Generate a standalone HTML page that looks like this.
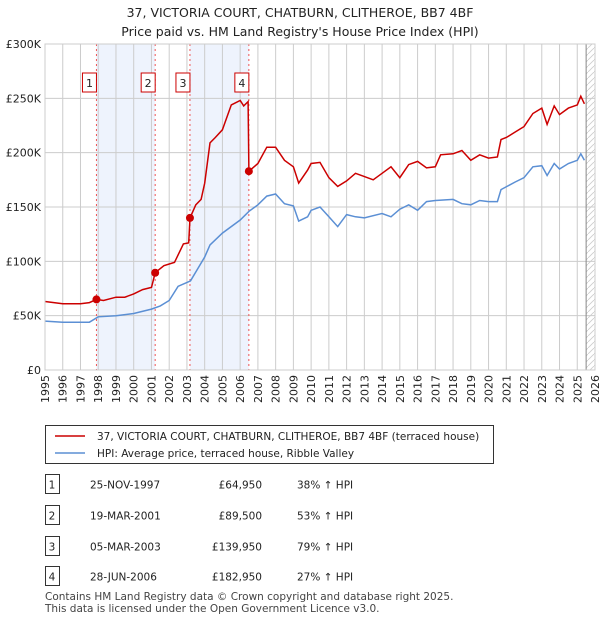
<!DOCTYPE html>
<html><head><meta charset="utf-8"><style>
body{margin:0;width:600px;height:620px;background:#fff;font-family:"Liberation Sans","DejaVu Sans",sans-serif;overflow:hidden}
svg text{font-family:"DejaVu Sans","Liberation Sans",sans-serif}
</style></head><body>
<svg id="c" width="600" height="620">
<text x="300" y="17" text-anchor="middle" font-size="12.5" fill="#222">37, VICTORIA COURT, CHATBURN, CLITHEROE, BB7 4BF</text>
<text x="300" y="36" text-anchor="middle" font-size="12.5" fill="#222">Price paid vs. HM Land Registry's House Price Index (HPI)</text>
<g id="plot"></g>
<g>
<rect x="45.5" y="425.5" width="448" height="38" fill="#fff" stroke="#333"/>
<line x1="55" y1="436" x2="85" y2="436" stroke="#cc0000" stroke-width="1.6"/>
<text x="97" y="440" font-size="10.5" fill="#222">37, VICTORIA COURT, CHATBURN, CLITHEROE, BB7 4BF (terraced house)</text>
<line x1="55" y1="453" x2="85" y2="453" stroke="#5b8fd4" stroke-width="1.6"/>
<text x="97" y="457" font-size="10.5" fill="#222">HPI: Average price, terraced house, Ribble Valley</text>
</g>
<g id="table" font-size="10.5" fill="#222"></g>
<text x="45" y="600" font-size="10.5" fill="#444">Contains HM Land Registry data © Crown copyright and database right 2025.</text>
<text x="45" y="612" font-size="10.5" fill="#444">This data is licensed under the Open Government Licence v3.0.</text>
</svg>
<script>
const saleYears=[1997.9,2001.21,2003.17,2006.49];
const saleLabels=["1","2","3","4"];
const salePrices=[64950,89500,139950,182950];
const saleDates=["25-NOV-1997","19-MAR-2001","05-MAR-2003","28-JUN-2006"];
const salePriceText=["£64,950","£89,500","£139,950","£182,950"];
const saleHpiText=["38% ↑ HPI","53% ↑ HPI","79% ↑ HPI","27% ↑ HPI"];
const redYears=[1995,1995.5,1996,1996.5,1997,1997.5,1997.9,1998.3,1999,1999.5,2000,2000.5,2001,2001.21,2001.7,2002.3,2002.8,2003.1,2003.17,2003.5,2003.8,2004,2004.3,2004.6,2005,2005.5,2006,2006.2,2006.45,2006.49,2007,2007.5,2008,2008.5,2009,2009.3,2009.8,2010,2010.5,2011,2011.5,2012,2012.5,2013,2013.5,2014,2014.5,2015,2015.5,2016,2016.5,2017,2017.3,2018,2018.5,2019,2019.5,2020,2020.5,2020.7,2021,2021.5,2022,2022.5,2023,2023.3,2023.7,2024,2024.5,2025,2025.2,2025.4];
const redValues=[63,62,61,61,61,62,65,64,67,67,70,74,76,89.5,96,99,116,117,139.95,152,157,172,209,214,221,244,248,243,247,182.95,190,205,205,193,187,172,184,190,191,177,169,174,181,178,175,181,187,177,189,192,186,187,198,199,202,193,198,195,196,212,214,219,224,236,241,226,243,235,241,244,252,245];
const blueYears=[1995,1996,1997,1997.5,1998,1999,2000,2001,2001.5,2002,2002.5,2003.2,2004,2004.3,2005,2006,2006.5,2007,2007.5,2008,2008.5,2009,2009.3,2009.8,2010,2010.5,2011,2011.5,2012,2012.5,2013,2014,2014.5,2015,2015.5,2016,2016.5,2017,2018,2018.5,2019,2019.5,2020,2020.5,2020.7,2021.5,2022,2022.5,2023,2023.3,2023.7,2024,2024.5,2025,2025.2,2025.4];
const blueValues=[45,44,44,44,49,50,52,56,59,64,77,82,104,115,126,138,146,152,160,162,153,151,137,141,147,150,141,132,143,141,140,144,141,148,152,147,155,156,157,153,152,156,155,155,166,173,177,187,188,179,190,185,190,193,199,193];
const yTicks=[0,50,100,150,200,250,300];
const yTickLabels=["£0","£50K","£100K","£150K","£200K","£250K","£300K"];
const xTicks=[1995,1996,1997,1998,1999,2000,2001,2002,2003,2004,2005,2006,2007,2008,2009,2010,2011,2012,2013,2014,2015,2016,2017,2018,2019,2020,2021,2022,2023,2024,2025,2026];

const L=45,R=595,T=44,B=370;
const X=y=>L+(y-1995)*(R-L)/31;
const Y=v=>B-v*(B-T)/300;
const NS="http://www.w3.org/2000/svg";
const plot=document.getElementById('plot');
function mk(tag,attrs,parent){const e=document.createElementNS(NS,tag);for(const k in attrs)e.setAttribute(k,attrs[k]);(parent||plot).appendChild(e);return e;}
for(let i=0;i<4;i+=2){
 const b=mk('rect',{x:X(saleYears[i]),y:T,width:X(saleYears[i+1])-X(saleYears[i]),height:B-T,fill:'#eef3fd'});
 
 
}
const defs=mk('defs',{});
const pat=mk('pattern',{id:'h',width:6,height:6,patternUnits:'userSpaceOnUse'},defs);
mk('path',{d:'M0,6 L6,0',stroke:'#ccc','stroke-width':0.8},pat);
const hatch=mk('rect',{x:X(2025.5),y:T,width:R-X(2025.5),height:B-T,fill:'url(#h)'});


xTicks.forEach(t=>{
 const g=mk('line',{x1:X(t),x2:X(t),y1:T,y2:B,stroke:'#ccc','stroke-width':1});
 
 
 const tx=mk('text',{x:0,y:0,'text-anchor':'end','font-size':11,fill:'#222',transform:'translate('+(X(t)+4)+',375) rotate(-90)'});
 tx.textContent=t;
 
 
});
yTicks.forEach((t,i)=>{
 const g=mk('line',{x1:L,x2:R,y1:Y(t),y2:Y(t),stroke:'#ccc','stroke-width':1});
 
 
 const tx=mk('text',{x:L-4,y:Y(t)+4,'text-anchor':'end','font-size':11,fill:'#222'});
 tx.textContent=yTickLabels[i];
 
 
});
const nl=mk('line',{x1:X(2025.5),x2:X(2025.5),y1:T,y2:B,stroke:'#888','stroke-width':1});


saleYears.forEach((s,i)=>{
 const l=mk('line',{x1:X(s),x2:X(s),y1:T,y2:B,stroke:'#e55','stroke-width':1,'stroke-dasharray':'2,3'});
 
 
 const bx=mk('rect',{x:X(s)-14,y:73,width:14,height:19,fill:'#fff',stroke:'#cc0000'});
 
 
 const tx=mk('text',{x:X(s)-7,y:87,'text-anchor':'middle','font-size':11,fill:'#222'});
 tx.textContent=saleLabels[i];
 
 
});
function line(xs,vs){return xs.map((x,i)=>(i?'L':'M')+X(x).toFixed(1)+','+Y(vs[i]).toFixed(1)).join(' ');}
const bl=mk('path',{d:line(blueYears,blueValues),fill:'none',stroke:'#5b8fd4','stroke-width':1.5});


const rl=mk('path',{d:line(redYears,redValues),fill:'none',stroke:'#cc0000','stroke-width':1.5});


saleYears.forEach((s,i)=>{
 const c=mk('circle',{cx:X(s),cy:Y(salePrices[i]/1000),r:4,fill:'#cc0000'});
 
 
});
const fr=mk('rect',{x:L,y:T,width:R-L,height:B-T,fill:'none',stroke:'#ccc'});


const tbl=document.getElementById('table');
const rowY=[485,516,547,577];
saleDates.forEach((d,i)=>{
 const y=rowY[i];
 const b=mk('rect',{x:45.5,y:y-10.5,width:14,height:19,fill:'#fff',stroke:'#333'},tbl);
 
 
 const cells=[[52,saleLabels[i],'middle','table-row-number'],[90,d,'start','table-date'],[262,salePriceText[i],'end','table-price'],[297,saleHpiText[i],'start','table-hpi-change']];
 cells.forEach(c=>{
  const t=mk('text',{x:c[0],y:y+3.5,'text-anchor':c[2]},tbl);
  t.textContent=c[1];
  
  
 });
});
</script>
</body></html>
